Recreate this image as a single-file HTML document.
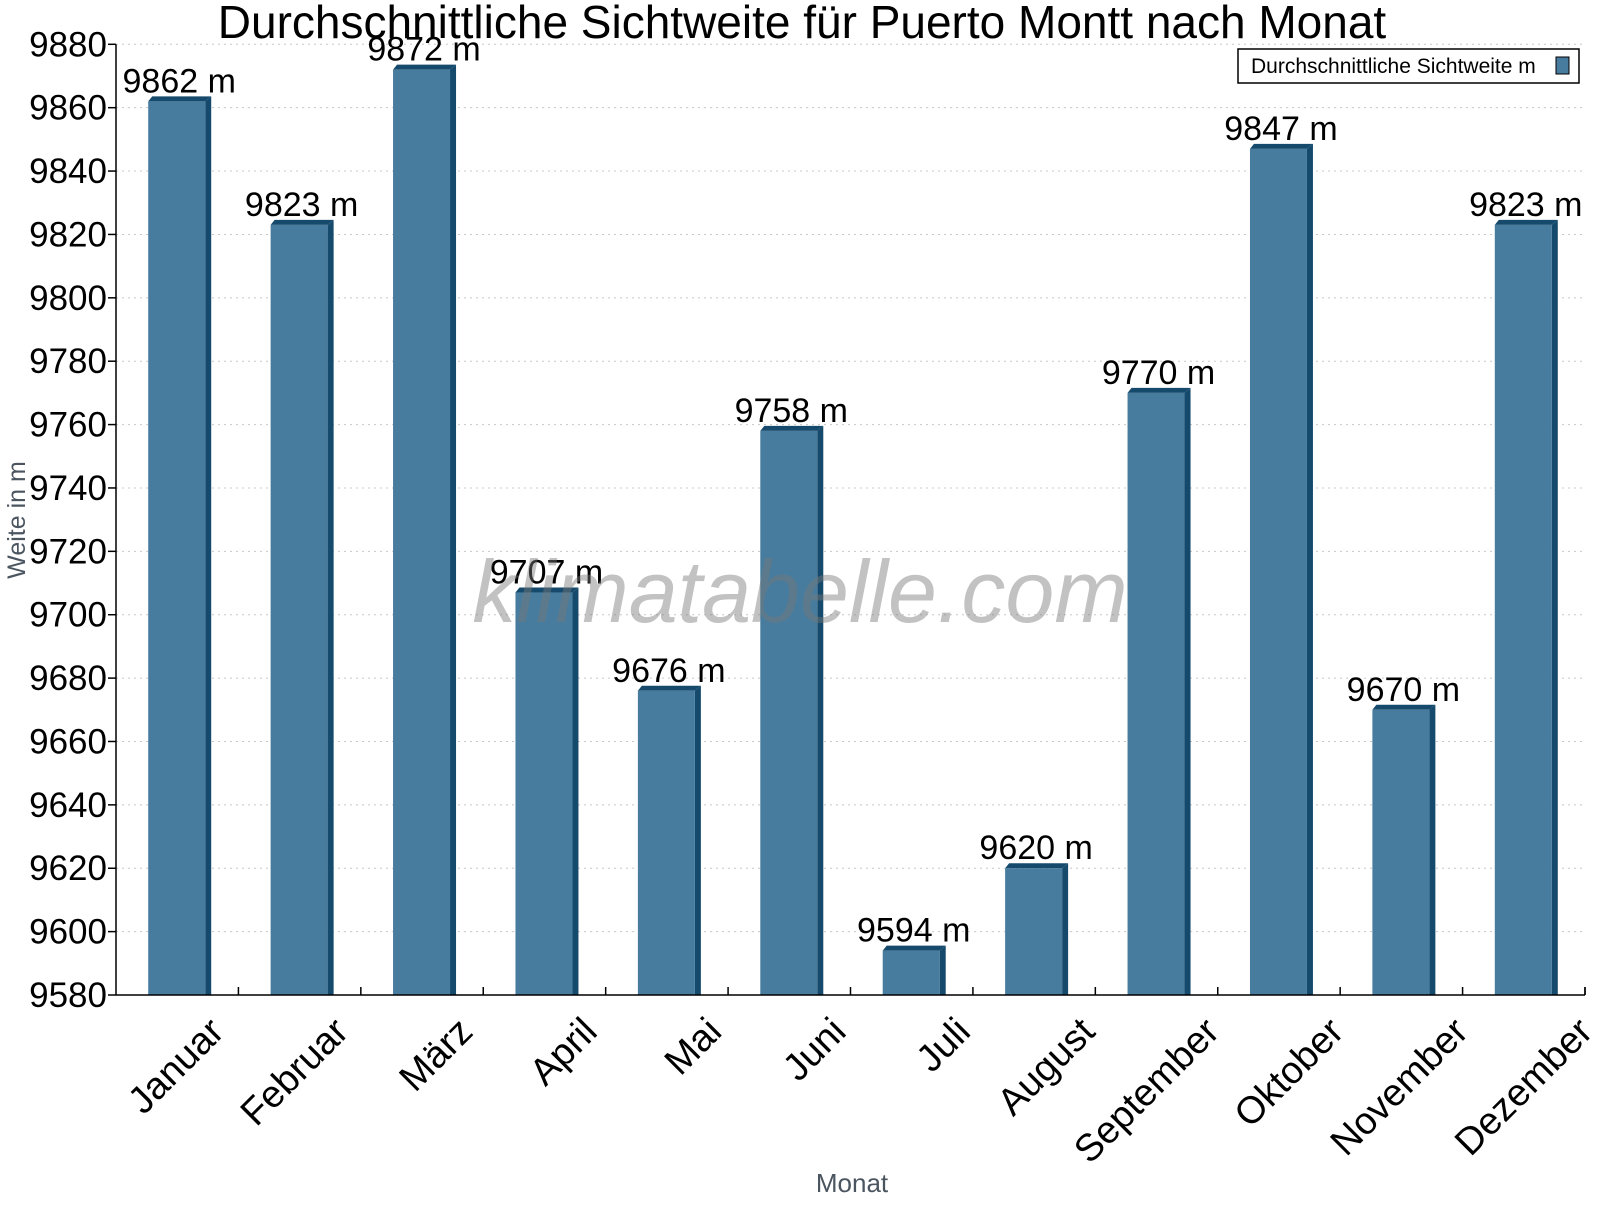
<!DOCTYPE html>
<html><head><meta charset="utf-8"><style>
body{margin:0;background:#fff;}
svg text{font-family:"Liberation Sans",sans-serif;}
</style></head><body>
<svg id="c" width="1600" height="1200" xmlns="http://www.w3.org/2000/svg">
<text x="802" y="38" font-size="46" text-anchor="middle">Durchschnittliche Sichtweite für Puerto Montt nach Monat</text>
<g id="grid"></g>
<g id="bars"></g>
<g id="axes"></g>
<text x="800" y="622" font-size="88" font-style="italic" fill="#777" fill-opacity="0.45" text-anchor="middle">klimatabelle.com</text>
<text transform="translate(25,520) rotate(-90)" font-size="25" fill="#4a5560" text-anchor="middle">Weite in m</text>
<text x="852" y="1192" font-size="26" fill="#4a5560" text-anchor="middle">Monat</text>
<g>
<rect x="1238" y="49" width="341" height="34" fill="#fff" stroke="#000" stroke-width="1.5"/>
<text x="1251" y="73" font-size="21">Durchschnittliche Sichtweite m</text>
<rect x="1556" y="57" width="13" height="17" fill="#477c9e" stroke="#000" stroke-width="1"/>
</g>
</svg>
<script>
const categories=["Januar","Februar","März","April","Mai","Juni","Juli","August","September","Oktober","November","Dezember"];
const values=[9862,9823,9872,9707,9676,9758,9594,9620,9770,9847,9670,9823];
const yTicks=[9580,9600,9620,9640,9660,9680,9700,9720,9740,9760,9780,9800,9820,9840,9860,9880];
const NS="http://www.w3.org/2000/svg";
const L=116,R=1585,T=44.3,B=995,yMin=9580,yMax=9880;
const cw=(R-L)/categories.length;
function y(v){return B-(v-yMin)/(yMax-yMin)*(B-T);}
function xc(i){return L+cw*(i+0.5);}
function mk(p,tag,a){const e=document.createElementNS(NS,tag);for(const k in a)e.setAttribute(k,a[k]);p.appendChild(e);return e;}
const grid=document.getElementById('grid'),bars=document.getElementById('bars'),axes=document.getElementById('axes');
yTicks.forEach(t=>{
  const g=mk(grid,'line',{x1:L,x2:R,y1:y(t),y2:y(t),stroke:'#c8c8c8','stroke-dasharray':'2,4','stroke-width':1});
  
  
  mk(axes,'line',{x1:L-8,x2:L,y1:y(t),y2:y(t),stroke:'#000','stroke-width':1.5});
  const tx=mk(axes,'text',{x:L-9,y:y(t)+12,'font-size':35,'text-anchor':'end'});
  tx.textContent=t;
  
  
});
mk(axes,'line',{x1:L,x2:L,y1:T,y2:B,stroke:'#000','stroke-width':1.5});
mk(axes,'line',{x1:L,x2:R,y1:B,y2:B,stroke:'#000','stroke-width':1.5});
mk(axes,'line',{x1:R,x2:R,y1:B,y2:B-8,stroke:'#000','stroke-width':1.5});
const bw=57,d=6,dy=5;
values.forEach((v,i)=>{
  const x0=xc(i)-bw/2-0.5,yt=y(v);
  const g=mk(bars,'g',{});
  
  
  mk(g,'polygon',{points:`${x0},${yt} ${x0+4},${yt-dy} ${x0+bw+d},${yt-dy} ${x0+bw},${yt}`,fill:'#164a6c'});
  mk(g,'polygon',{points:`${x0+bw},${yt} ${x0+bw+d},${yt-dy} ${x0+bw+d},${B} ${x0+bw},${B}`,fill:'#164a6c'});
  mk(g,'rect',{x:x0,y:yt,width:bw,height:B-yt,fill:'#477c9e'});
  const lb=mk(bars,'text',{x:xc(i)+2,y:yt-9,'font-size':34,'text-anchor':'middle'});
  lb.textContent=v+' m';
  
  
  const tx=L+cw*(i+1);
  mk(axes,'line',{x1:tx,x2:tx,y1:B,y2:B-8,stroke:'#000','stroke-width':1.5});
  const xl=mk(axes,'text',{transform:`translate(${xc(i)+30+i*2},${B+20}) rotate(-45)`,'font-size':38,'text-anchor':'end','dominant-baseline':'hanging'});
  xl.textContent=categories[i];
  
  
});
</script>
</body></html>
